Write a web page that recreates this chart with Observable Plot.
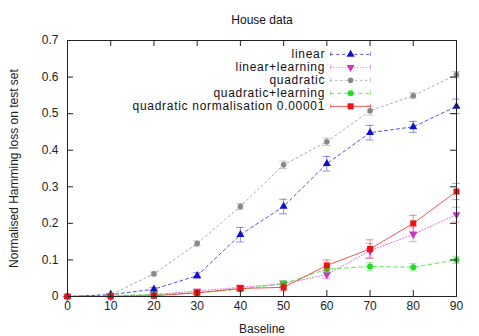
<!DOCTYPE html>
<html><head><meta charset="utf-8">
<script src="https://cdn.jsdelivr.net/npm/d3@7"></script>
<script src="https://cdn.jsdelivr.net/npm/@observablehq/plot@0.6"></script>
<style>body{margin:0;background:#fff;font-family:"Liberation Sans",Arial,sans-serif}</style>
</head><body><div id="chart"></div>
<script>
const baseline = [0,10,20,30,40,50,60,70,80,90];
const seriesNames = ["linear","linear+learning","quadratic","quadratic+learning","quadratic normalisation 0.00001"];
const linear = [0,0.005,0.02,0.057,0.169,0.246,0.363,0.448,0.464,0.52];
const linearErr = [0,0.003,0.005,0.008,0.02,0.02,0.02,0.02,0.015,0.02];
const linearLearning = [0,0,0.005,0.015,0.025,0.035,0.06,0.125,0.17,0.224];
const linearLearningErr = [0,0.002,0.004,0.005,0.006,0.008,0.01,0.02,0.02,0.02];
const quadratic = [0,0.005,0.062,0.145,0.246,0.36,0.423,0.508,0.549,0.607];
const quadraticErr = [0,0.003,0.005,0.007,0.008,0.01,0.01,0.012,0.008,0.008];
const quadraticLearning = [0,0.003,0.005,0.01,0.02,0.035,0.075,0.082,0.08,0.1];
const quadraticLearningErr = [0,0.002,0.003,0.005,0.006,0.008,0.01,0.01,0.01,0.01];
const quadNorm = [0,0,0.002,0.01,0.022,0.025,0.085,0.13,0.2,0.287];
const quadNormErr = [0,0.002,0.003,0.005,0.006,0.01,0.015,0.025,0.022,0.022];
const xTicks = [0,10,20,30,40,50,60,70,80,90];
const yTicks = [0,0.1,0.2,0.3,0.4,0.5,0.6,0.7];

const styles = [
  {color:"#1010cc", dash:"3,3", symbol:"triangle", rotate:0, r:3},
  {color:"#cc33cc", dash:"1,2", symbol:"triangle", rotate:180, r:3},
  {color:"#888888", dash:"2,3", symbol:"circle", rotate:0, r:2.8},
  {color:"#22dd22", dash:"4,3", symbol:"circle", rotate:0, r:3},
  {color:"#ee1111", dash:null, symbol:"square", rotate:0, r:3.4}
];
const vals = [linear, linearLearning, quadratic, quadraticLearning, quadNorm];
const errs = [linearErr, linearLearningErr, quadraticErr, quadraticLearningErr, quadNormErr];

const marks = [];
const drawOrder = [2,0,1,3,4];
for (const s of drawOrder) {
  const st = styles[s];
  const data = baseline.map((x,i)=>({x, y: vals[s][i], e: errs[s][i]}));
  marks.push(Plot.line(data,{x:"x",y:"y",stroke:st.color,strokeWidth:0.9,strokeOpacity:0.8,strokeDasharray:st.dash}));
  marks.push(Plot.ruleX(data,{x:"x",y1:d=>d.y-d.e,y2:d=>d.y+d.e,stroke:st.color,strokeWidth:0.8,strokeOpacity:0.6}));
  marks.push(Plot.ruleY(data,{y:d=>d.y-d.e,x1:d=>d.x-0.9,x2:d=>d.x+0.9,stroke:st.color,strokeWidth:0.8,strokeOpacity:0.6}));
  marks.push(Plot.ruleY(data,{y:d=>d.y+d.e,x1:d=>d.x-0.9,x2:d=>d.x+0.9,stroke:st.color,strokeWidth:0.8,strokeOpacity:0.6}));
  marks.push(Plot.dot(data,{x:"x",y:"y",fill:st.color,symbol:st.symbol,r:st.r,rotate:st.rotate,stroke:"none"}));
}

// legend (in data space, derived from the series index)
const legend = seriesNames.map((name,i)=>({name, i, y: 0.662 - i*0.0355}));
const lx1 = 60.9, lx2 = 70.1, lxm = 65.5, ltx = 59.6;
legend.forEach((d)=>{
  const st = styles[d.i];
  marks.push(Plot.ruleY([d],{y:"y",x1:lx1,x2:lx2,stroke:st.color,strokeWidth:0.9,strokeOpacity:0.8,strokeDasharray:st.dash}));
  marks.push(Plot.ruleX([d],{x:lx1,y1:d=>d.y-0.006,y2:d=>d.y+0.006,stroke:st.color,strokeWidth:0.8,strokeOpacity:0.6}));
  marks.push(Plot.ruleX([d],{x:lx2,y1:d=>d.y-0.006,y2:d=>d.y+0.006,stroke:st.color,strokeWidth:0.8,strokeOpacity:0.6}));
  marks.push(Plot.dot([d],{x:lxm,y:"y",fill:st.color,symbol:st.symbol,r:st.r,rotate:st.rotate,stroke:"none"}));
  marks.push(Plot.text([d],{x:ltx,y:"y",text:"name",textAnchor:"end",fontSize:12,fill:"#111"}));
});

const chart = Plot.plot({
  width:479, height:336,
  marginLeft:67, marginRight:23, marginTop:40, marginBottom:40,
  style:{fontFamily:"'Liberation Sans', Arial, sans-serif", fontSize:"12px", background:"#fff", color:"#222"},
  x:{domain:[0,90]},
  y:{domain:[0,0.7]},
  marks:[
    ...marks,
    Plot.frame({stroke:"#222", strokeWidth:1}),
    Plot.tickX(xTicks,{x:d=>d, insetTop:250, stroke:"#222"}),
    Plot.tickX(xTicks,{x:d=>d, insetBottom:250, stroke:"#222"}),
    Plot.tickY(yTicks,{y:d=>d, insetRight:383, stroke:"#222"}),
    Plot.tickY(yTicks,{y:d=>d, insetLeft:383, stroke:"#222"}),
    Plot.axisX({ticks:xTicks, tickSize:0, tickPadding:5, fontSize:12, label:"Baseline", labelAnchor:"center", labelArrow:"none", labelOffset:36}),
    Plot.axisY({ticks:yTicks, tickSize:0, tickPadding:9, fontSize:12, tickFormat:d=>String(+d.toFixed(1)), label:"Normalised Hamming loss on test set", labelAnchor:"center", labelArrow:"none", labelOffset:58}),
    Plot.text(["House data"],{frameAnchor:"top", dy:-25, fontSize:12, fill:"#111"})
  ]
});
document.getElementById("chart").appendChild(chart);
d3.select(chart).selectAll("text").filter(function(){return seriesNames.includes(this.textContent);}).attr("letter-spacing","0.7");
</script></body></html>
